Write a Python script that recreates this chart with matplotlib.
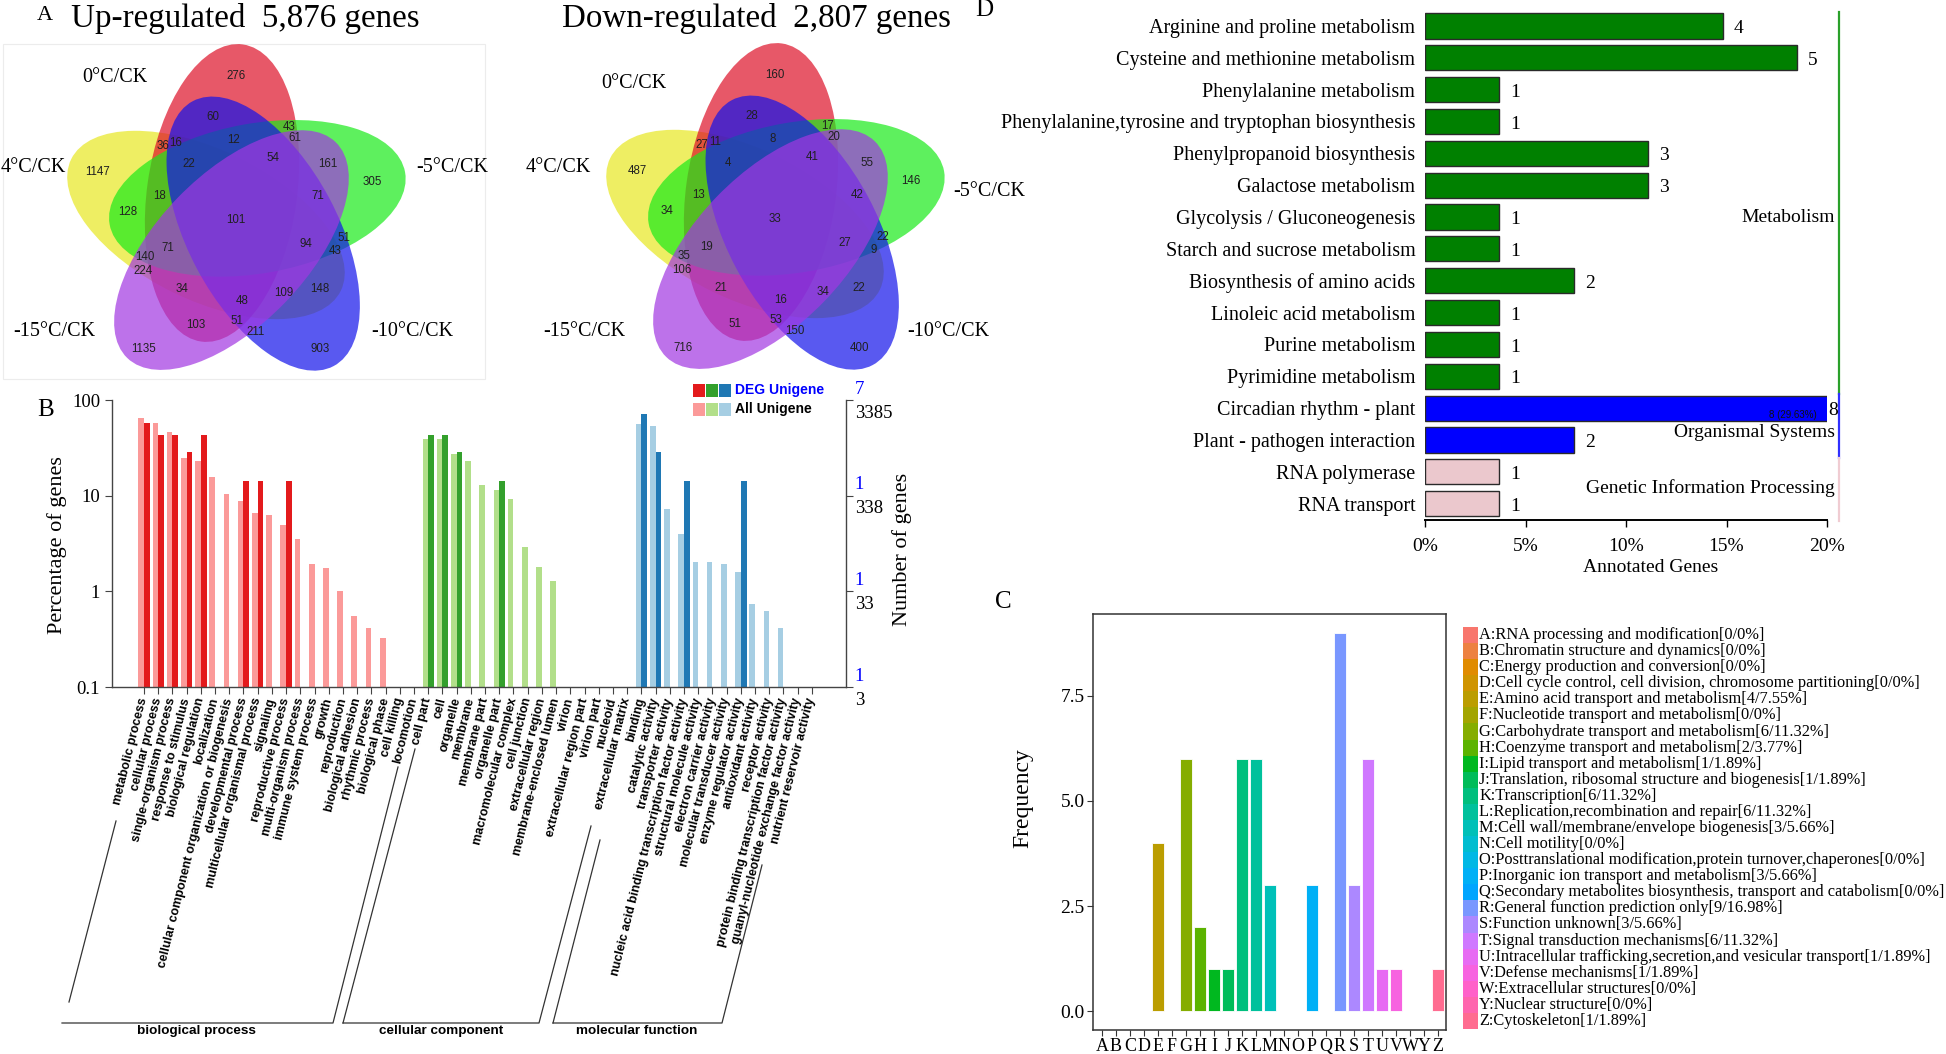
import matplotlib
matplotlib.use("Agg")
import matplotlib.pyplot as plt
from matplotlib.patches import Ellipse, Rectangle
from matplotlib.ticker import NullLocator
import matplotlib.transforms as mtrans
import numpy as np

W, H = 1946, 1054
SERIF = "Liberation Serif"
SANS = "Liberation Sans"
plt.rcParams.update({"font.family": SERIF, "axes.linewidth": 1.0})

# ---------------- A: five-set Venn counts (same region order in both) ----------------
venn_sets = ["0°C/CK", "-5°C/CK", "-10°C/CK", "-15°C/CK", "4°C/CK"]
venn_up = [276, 60, 43, 61, 36, 16, 12, 22, 54, 161, 305, 1147, 18, 128, 71, 101,
           71, 94, 51, 43, 140, 224, 34, 48, 109, 148, 103, 51, 211, 1135, 903]
venn_down = [160, 28, 17, 20, 27, 11, 8, 4, 41, 55, 146, 487, 13, 34, 42, 33,
             19, 27, 22, 9, 35, 106, 21, 16, 34, 22, 51, 53, 150, 716, 400]

# ---------------- B: GO level-2 classification ----------------
go_terms = [
    "metabolic process", "cellular process", "single-organism process", "response to stimulus",
    "biological regulation", "localization", "cellular component organization or biogenesis",
    "developmental process", "multicellular organismal process", "signaling", "reproductive process",
    "multi-organism process", "immune system process", "growth", "reproduction",
    "biological adhesion", "rhythmic process", "biological phase", "cell killing", "locomotion",
    "cell part", "cell", "organelle", "membrane", "membrane part", "organelle part",
    "macromolecular complex", "cell junction", "extracellular region", "membrane-enclosed lumen",
    "virion", "extracellular region part", "virion part", "nucleoid", "extracellular matrix",
    "binding", "catalytic activity", "transporter activity",
    "nucleic acid binding transcription factor activity", "structural molecule activity",
    "electron carrier activity", "molecular transducer activity", "enzyme regulator activity",
    "antioxidant activity", "receptor activity", "protein binding transcription factor activity",
    "guanyl-nucleotide exchange factor activity", "nutrient reservoir activity"]
go_groups = ["biological process", "cellular component", "molecular function"]
go_group_sizes = [20, 15, 13]
go_all = [65.4, 58.0, 46.4, 24.6, 23.3, 15.8, 10.3, 8.7, 6.6, 6.3, 4.9, 3.5, 1.92, 1.75, 1.02,
          0.556, 0.413, 0.325, 0, 0,
          38.8, 38.8, 27.5, 23.3, 12.9, 11.6, 9.2, 2.92, 1.79, 1.29, 0, 0, 0, 0, 0,
          56.2, 53.9, 7.2, 3.93, 2.05, 2.05, 1.91, 1.59, 0.73, 0.62, 0.413, 0, 0]
go_deg = [57.1, 42.9, 42.9, 28.6, 42.9, 0, 0, 14.3, 14.3, 0, 14.3, 0, 0, 0, 0, 0, 0, 0, 0, 0,
          42.9, 42.9, 28.6, 0, 0, 14.3, 0, 0, 0, 0, 0, 0, 0, 0, 0,
          71.4, 28.6, 0, 14.3, 0, 0, 0, 14.3, 0, 0, 0, 0, 0]
go_ticks = [0.1, 1, 10, 100]
go_right_deg = ["1", "1", "1", "7"]
go_right_all = ["3", "33", "338", "3385"]

# ---------------- C: COG classification ----------------
cog_letters = list("ABCDEFGHIJKLMNOPQRSTUVWYZ")
cog_desc = [
    "RNA processing and modification", "Chromatin structure and dynamics",
    "Energy production and conversion",
    "Cell cycle control, cell division, chromosome partitioning",
    "Amino acid transport and metabolism", "Nucleotide transport and metabolism",
    "Carbohydrate transport and metabolism", "Coenzyme transport and metabolism",
    "Lipid transport and metabolism", "Translation, ribosomal structure and biogenesis",
    "Transcription", "Replication,recombination and repair",
    "Cell wall/membrane/envelope biogenesis", "Cell motility",
    "Posttranslational modification,protein turnover,chaperones",
    "Inorganic ion transport and metabolism",
    "Secondary metabolites biosynthesis, transport and catabolism",
    "General function prediction only", "Function unknown", "Signal transduction mechanisms",
    "Intracellular trafficking,secretion,and vesicular transport", "Defense mechanisms",
    "Extracellular structures", "Nuclear structure", "Cytoskeleton"]
cog_freq = [0, 0, 0, 0, 4, 0, 6, 2, 1, 1, 6, 6, 3, 0, 0, 3, 0, 9, 3, 6, 1, 1, 0, 0, 1]

# ---------------- D: KEGG pathways ----------------
kegg_terms = ["Arginine and proline metabolism", "Cysteine and methionine metabolism",
              "Phenylalanine metabolism", "Phenylalanine,tyrosine and tryptophan biosynthesis",
              "Phenylpropanoid biosynthesis", "Galactose metabolism",
              "Glycolysis / Gluconeogenesis", "Starch and sucrose metabolism",
              "Biosynthesis of amino acids", "Linoleic acid metabolism", "Purine metabolism",
              "Pyrimidine metabolism", "Circadian rhythm - plant", "Plant - pathogen interaction",
              "RNA polymerase", "RNA transport"]
kegg_counts = [4, 5, 1, 1, 3, 3, 1, 1, 2, 1, 1, 1, 8, 2, 1, 1]
kegg_total = 27
kegg_class = ["Metabolism"] * 12 + ["Organismal Systems"] * 2 + ["Genetic Information Processing"] * 2


def hcl(h, c=100.0, l=65.0):
    """ggplot-style hue colour (polar Luv -> sRGB)."""
    hr = np.deg2rad(h)
    u, v = c * np.cos(hr), c * np.sin(hr)
    xn, yn, zn = 95.047, 100.0, 108.883
    y = yn * ((l + 16) / 116) ** 3
    d = xn + 15 * yn + 3 * zn
    up, vp = u / (13 * l) + 4 * xn / d, v / (13 * l) + 9 * yn / d
    x = y * 9 * up / (4 * vp)
    z = y * (12 - 3 * up - 20 * vp) / (4 * vp)
    x, y, z = x / 100, y / 100, z / 100
    rgb = np.array([3.2404542 * x - 1.5371385 * y - 0.4985314 * z,
                    -0.9692660 * x + 1.8760108 * y + 0.0415560 * z,
                    0.0556434 * x - 0.2040259 * y + 1.0572252 * z])
    rgb = np.where(rgb <= 0.0031308, 12.92 * rgb, 1.055 * np.abs(rgb) ** (1 / 2.4) - 0.055)
    return tuple(np.clip(rgb, 0, 1))


fig = plt.figure(figsize=(W / 100, H / 100), dpi=100)
cv = fig.add_axes([0, 0, 1, 1])
cv.set_xlim(0, W); cv.set_ylim(H, 0); cv.axis("off")


def px_axes(x0, y0, x1, y1):
    return fig.add_axes([x0 / W, 1 - y1 / H, (x1 - x0) / W, (y1 - y0) / H])


# ================= A =================
VENN_COLORS = ["#DE1128", "#1AEA1A", "#1313EA", "#A237E2", "#E7E721"]
REGION_XY = [(0, -144), (-23, -103), (53, -93), (59, -82), (-73, -74), (-60, -77), (-2, -80),
             (-47, -56), (37, -62), (92, -56), (136, -38), (-138, -48), (-76, -24), (-108, -8),
             (82, -24), (0, 0), (-68, 28), (70, 24), (108, 18), (99, 31), (-91, 37), (-93, 51),
             (-54, 69), (6, 81), (48, 73), (84, 69), (-40, 105), (1, 101), (20, 112),
             (-92, 129), (84, 129)]


def draw_venn(cx, cy, counts, name_xy):
    for k in [4, 0, 1, 2, 3]:
        r = np.deg2rad(-72 * k)
        ox = -14 * np.cos(r) - 27 * np.sin(r)
        oy = -14 * np.sin(r) + 27 * np.cos(r)
        cv.add_patch(Ellipse((cx + ox, cy - oy), 300, 150, angle=-(82 - 72 * k),
                             fc=VENN_COLORS[k], ec="none", alpha=0.7))
    for n, (x, y) in zip(counts, REGION_XY):
        cv.text(cx + x, cy + y, str(n), ha="center", va="center", fontsize=8.3,
                family=SANS, color="#202020")
    for name, (x, y) in zip(venn_sets, name_xy):
        cv.text(cx + x, cy + y, name, ha="center", va="center", fontsize=14.5)


cv.add_patch(Rectangle((3, 44), 482, 335, fc="none", ec="#ececec", lw=0.8))
draw_venn(236, 220, venn_up, [(-121, -143), (216, -52), (176, 112), (-182, 112), (-203, -52)])
draw_venn(775, 219, venn_down, [(-141, -136), (214, -27), (173, 112), (-191, 113), (-217, -52)])
cv.text(45, 16, "A", ha="center", va="center", fontsize=16)
cv.text(245, 19, "Up-regulated  5,876 genes", ha="center", va="center", fontsize=23.8)
cv.text(756, 19, "Down-regulated  2,807 genes", ha="center", va="center", fontsize=23.8)

# ================= B =================
DEG_COLS = ["#E31A1C", "#33A02C", "#1F78B4"]
ALL_COLS = ["#FB9A99", "#B2DF8A", "#A6CEE3"]
grp = np.repeat(np.arange(3), go_group_sizes)
xb = np.arange(len(go_terms))
all_v, deg_v = np.array(go_all), np.array(go_deg)
axb = px_axes(112, 400, 846, 687)
axb.set_yscale("log", nonpositive="clip")
m = all_v > 0
axb.bar(xb[m] - 0.2, all_v[m], width=0.4, color=[ALL_COLS[g] for g in grp[m]], linewidth=0)
m = deg_v > 0
axb.bar(xb[m] + 0.2, deg_v[m], width=0.4, color=[DEG_COLS[g] for g in grp[m]], linewidth=0)
axb.set_xlim(-2.25, 49.4)
axb.set_ylim(0.1, 100)
axb.set_yticks(go_ticks)
axb.set_yticklabels(["0.1", "1", "10", "100"], fontsize=13.5)
axb.yaxis.set_minor_locator(NullLocator())
axb.tick_params(axis="y", right=True, length=5, color="#444")
axb.set_xticks(xb)
axb.set_xticklabels(go_terms, rotation=76, rotation_mode="anchor", ha="right", va="center",
                    fontsize=9, fontweight="bold", family=SANS)
axb.tick_params(axis="x", length=5, pad=3, color="#444")
axb.spines["top"].set_visible(False)
for s in ["left", "right", "bottom"]:
    axb.spines[s].set_color("#444")
axb.patch.set_alpha(0)
tr = mtrans.blended_transform_factory(axb.transAxes, axb.transData)
for v, a, b in zip(go_ticks, go_right_deg, go_right_all):
    axb.text(1.012, v * 1.06, a, transform=tr, ha="left", va="bottom", fontsize=13.5, color="blue")
    axb.text(1.012, v / 1.12, b, transform=tr, ha="left", va="top", fontsize=13.5)
cv.text(46, 410, "B", ha="center", va="center", fontsize=18)
cv.text(57, 545, "Percentage of genes", rotation=90, ha="center", va="center", fontsize=16)
cv.text(902, 549, "Number of genes", rotation=90, ha="center", va="center", fontsize=16)
for k in range(3):
    cv.add_patch(Rectangle((693 + 13 * k, 384), 12, 13, fc=DEG_COLS[k], ec="none"))
    cv.add_patch(Rectangle((693 + 13 * k, 403), 12, 13, fc=ALL_COLS[k], ec="none"))
cv.text(735, 390, "DEG Unigene", ha="left", va="center", fontsize=10, fontweight="bold",
        family=SANS, color="blue")
cv.text(735, 409, "All Unigene", ha="left", va="center", fontsize=10, fontweight="bold",
        family=SANS, color="black")
brackets = [[(69, 1002), (116, 821)], [(62, 1023), (333, 1023), (398, 767)],
            [(343, 1023), (415, 749)], [(343, 1023), (539, 1023), (591, 826)],
            [(553, 1023), (600, 840)], [(553, 1023), (722, 1023), (762, 865)]]
for seg in brackets:
    xs, ys = zip(*seg)
    cv.plot(xs, ys, color="#333", lw=0.9)
for name, xc in zip(go_groups, [196, 441, 637]):
    cv.text(xc, 1031, name, ha="center", va="center", fontsize=9.7,
            fontweight="bold", family=SANS)

# ================= D =================
CLASS_COLS = {"Metabolism": "#008000", "Organismal Systems": "#0000FF",
              "Genetic Information Processing": "#EBC8CD"}
LINE_COLS = {"Metabolism": "#2AA02A", "Organismal Systems": "#3030FF",
             "Genetic Information Processing": "#F0CCD2"}
CLASS_DY = {"Metabolism": 0.5, "Organismal Systems": 0.25, "Genetic Information Processing": 0.0}
axd = px_axes(1425, 10, 1827, 520)
pct = np.array(kegg_counts) / kegg_total * 100
rows = np.arange(len(kegg_terms))
axd.barh(rows, pct, height=0.79, color=[CLASS_COLS[c] for c in kegg_class],
         edgecolor="#2a2a2a", linewidth=1.0)
axd.set_xlim(0, 20)
axd.set_ylim(15.51, -0.5)
axd.set_yticks(rows)
axd.set_yticklabels(kegg_terms, fontsize=14.5)
axd.tick_params(axis="y", length=0, pad=7)
axd.set_xticks([0, 5, 10, 15, 20])
axd.set_xticklabels(["0%", "5%", "10%", "15%", "20%"], fontsize=14)
axd.tick_params(axis="x", length=5, width=1, pad=8)
for s in ["left", "right", "top"]:
    axd.spines[s].set_visible(False)
axd.spines["bottom"].set_linewidth(1.4)
axd.patch.set_alpha(0)
for r, n, p in zip(rows, kegg_counts, pct):
    axd.text(min(p, 20) + (0.05 if p > 20 else 0.55), r + 0.08, str(n), ha="left", va="center",
             fontsize=14, clip_on=False)
    if p > 20:
        axd.text(18.3, r + 0.2, f"{n} ({p:.2f}%)", ha="center", va="center", fontsize=7,
                 family=SANS, color="#111")
for c in dict.fromkeys(kegg_class):
    idx = [i for i, k in enumerate(kegg_class) if k == c]
    axd.plot([20.6, 20.6], [idx[0] - 0.45, idx[-1] + 0.55], color=LINE_COLS[c], lw=1.6,
             clip_on=False)
    axd.text(20.4, np.mean(idx) + CLASS_DY[c], c, ha="right", va="center", fontsize=14)
cv.text(984, 10, "D", ha="center", va="center", fontsize=18)
cv.text(1651, 568, "Annotated Genes", ha="center", va="center", fontsize=14)

# ================= C =================
hues = np.linspace(15, 375, len(cog_letters) + 1)[:-1]
cog_cols = [hcl(h) for h in hues]
axc = px_axes(1093, 614, 1446, 1030)
xc = np.arange(len(cog_letters))
axc.bar(xc, cog_freq, width=0.88, color=cog_cols, edgecolor="white", linewidth=0.6)
axc.set_xlim(-0.64, 24.57)
axc.set_ylim(-0.45, 9.45)
axc.set_yticks([0, 2.5, 5, 7.5])
axc.set_yticklabels(["0.0", "2.5", "5.0", "7.5"], fontsize=14)
axc.set_xticks(xc)
axc.set_xticklabels(cog_letters, fontsize=13)
axc.tick_params(length=4, color="#333", pad=2)
for s in axc.spines.values():
    s.set_color("#333"); s.set_linewidth(1.1)
cv.text(1003, 602, "C", ha="center", va="center", fontsize=18)
cv.text(1023, 798, "Frequency", rotation=90, ha="center", va="center", fontsize=17)
n_tot = sum(cog_freq)
row_h = (1029 - 627) / len(cog_letters)
for k, (L, d, n) in enumerate(zip(cog_letters, cog_desc, cog_freq)):
    y0 = 627 + k * row_h
    cv.add_patch(Rectangle((1463, y0), 15, row_h + 0.3, fc=cog_cols[k], ec="none"))
    share = "0%" if n == 0 else f"{n / n_tot * 100:.2f}%"
    cv.text(1479, y0 + row_h / 2, f"{L}:{d}[{n}/{share}]", ha="left", va="center", fontsize=11.8)

fig.savefig("out.png", dpi=100)
